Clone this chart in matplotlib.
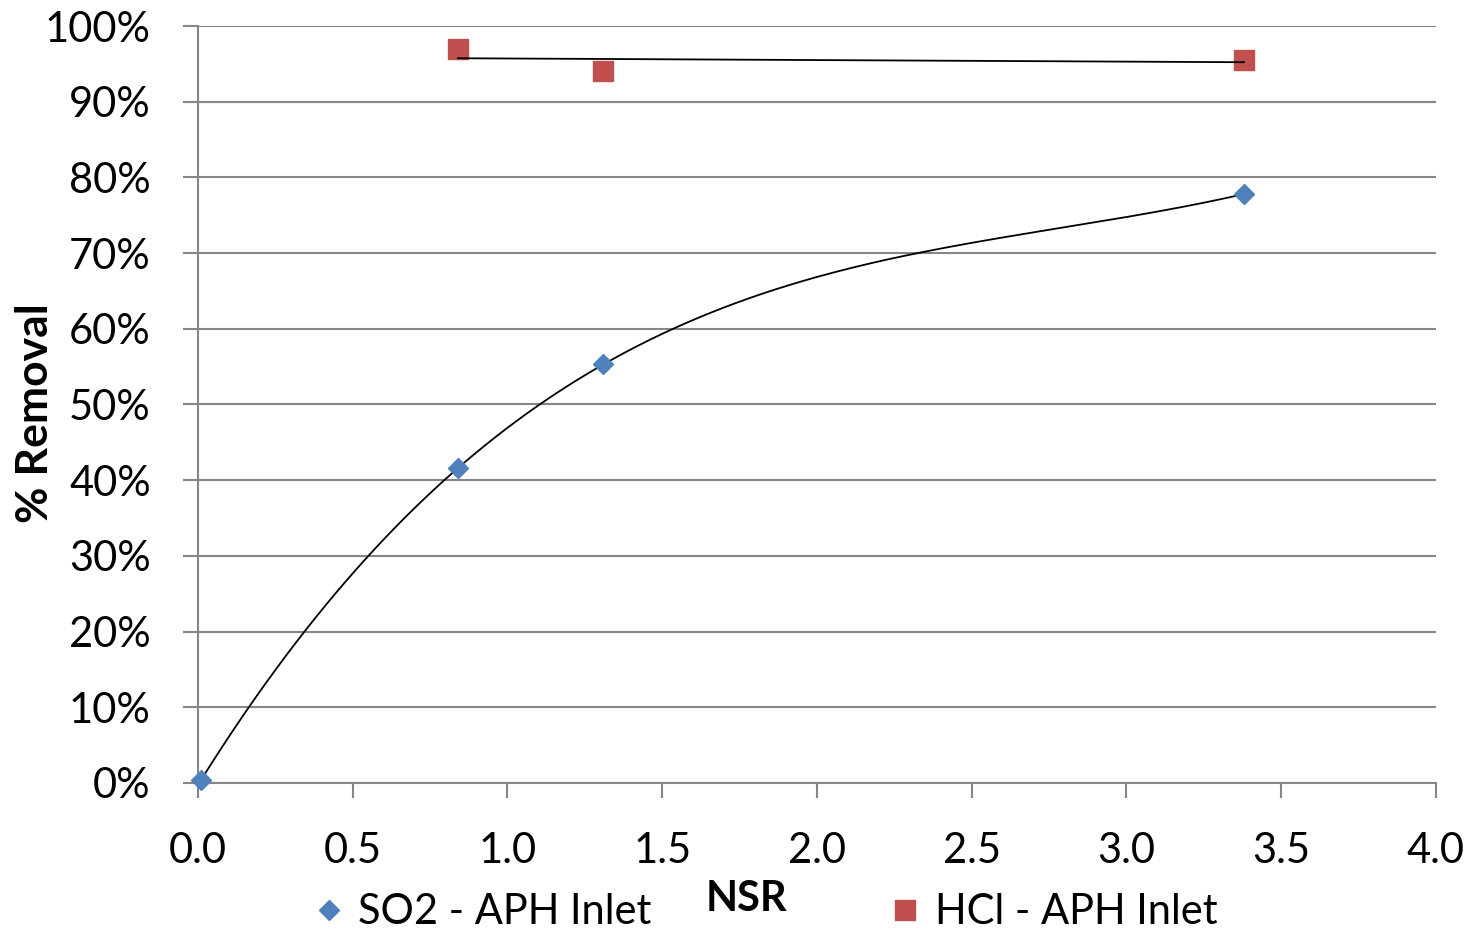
import numpy as np
import matplotlib.pyplot as plt
from matplotlib.ticker import PercentFormatter

plt.rcParams['font.family'] = ['Lato', 'DejaVu Sans']

# data (NSR vs fraction removed)
so2_nsr = [0.01, 0.84, 1.31, 3.38]
so2_removal = [0.004, 0.416, 0.553, 0.778]
hcl_nsr = [0.84, 1.31, 3.38]
hcl_removal = [0.970, 0.941, 0.955]

x_ticks = [0.0, 0.5, 1.0, 1.5, 2.0, 2.5, 3.0, 3.5, 4.0]
y_ticks = np.arange(0, 1.01, 0.1)

blue = '#4F81BD'
red = '#C0504D'
grid_col = '#868686'

fig = plt.figure(figsize=(14.72, 9.32), dpi=100)
ax = fig.add_axes([0.1345, 0.1599, 0.841, 0.8122])

# trendlines (poly order 3 for SO2, linear for HCl), as in the spreadsheet
p3 = np.polyfit(so2_nsr, so2_removal, 3)
xs = np.linspace(min(so2_nsr), max(so2_nsr), 300)
ax.plot(xs, np.polyval(p3, xs), color='black', lw=1.3, zorder=3)
p1 = np.polyfit(hcl_nsr, hcl_removal, 1)
xh = np.array([min(hcl_nsr), max(hcl_nsr)])
ax.plot(xh, np.polyval(p1, xh), color='black', lw=1.3, zorder=3)

ax.plot(so2_nsr, so2_removal, linestyle='none', marker='D', ms=10,
        color=blue, label='SO2 - APH Inlet', zorder=4, clip_on=False)
ax.plot(hcl_nsr, hcl_removal, linestyle='none', marker='s', ms=14,
        color=red, label='HCl - APH Inlet', zorder=2, clip_on=False)

ax.set_xlim(0, 4)
ax.set_ylim(0, 1)
ax.set_xticks(x_ticks)
ax.set_xticklabels([f'{v:.1f}' for v in x_ticks])
ax.set_yticks(y_ticks)
ax.yaxis.set_major_formatter(PercentFormatter(1.0, decimals=0))

ax.grid(axis='y', color=grid_col, lw=1.5)
ax.set_axisbelow(True)
for side in ['top', 'right']:
    ax.spines[side].set_visible(False)
for side in ['left', 'bottom']:
    ax.spines[side].set_color(grid_col)
    ax.spines[side].set_linewidth(1.5)
ax.tick_params(axis='both', length=11, width=1.5, color=grid_col,
               labelsize=30)
ax.tick_params(axis='y', pad=23)
ax.tick_params(axis='x', pad=24)

ax.set_xlabel('NSR', fontsize=30, fontweight='bold')
ax.xaxis.set_label_coords(0.443, -0.128)
ax.set_ylabel('% Removal', fontsize=32, fontweight='bold')
ax.yaxis.set_label_coords(-0.1155, 0.489)

fig.legend(loc='center', bbox_to_anchor=(0.518, 0.021), ncol=2,
           frameon=False, fontsize=30, columnspacing=5.6,
           handletextpad=0.2, handlelength=1.0, markerscale=1.0)

fig.savefig('out.png', dpi=100)
